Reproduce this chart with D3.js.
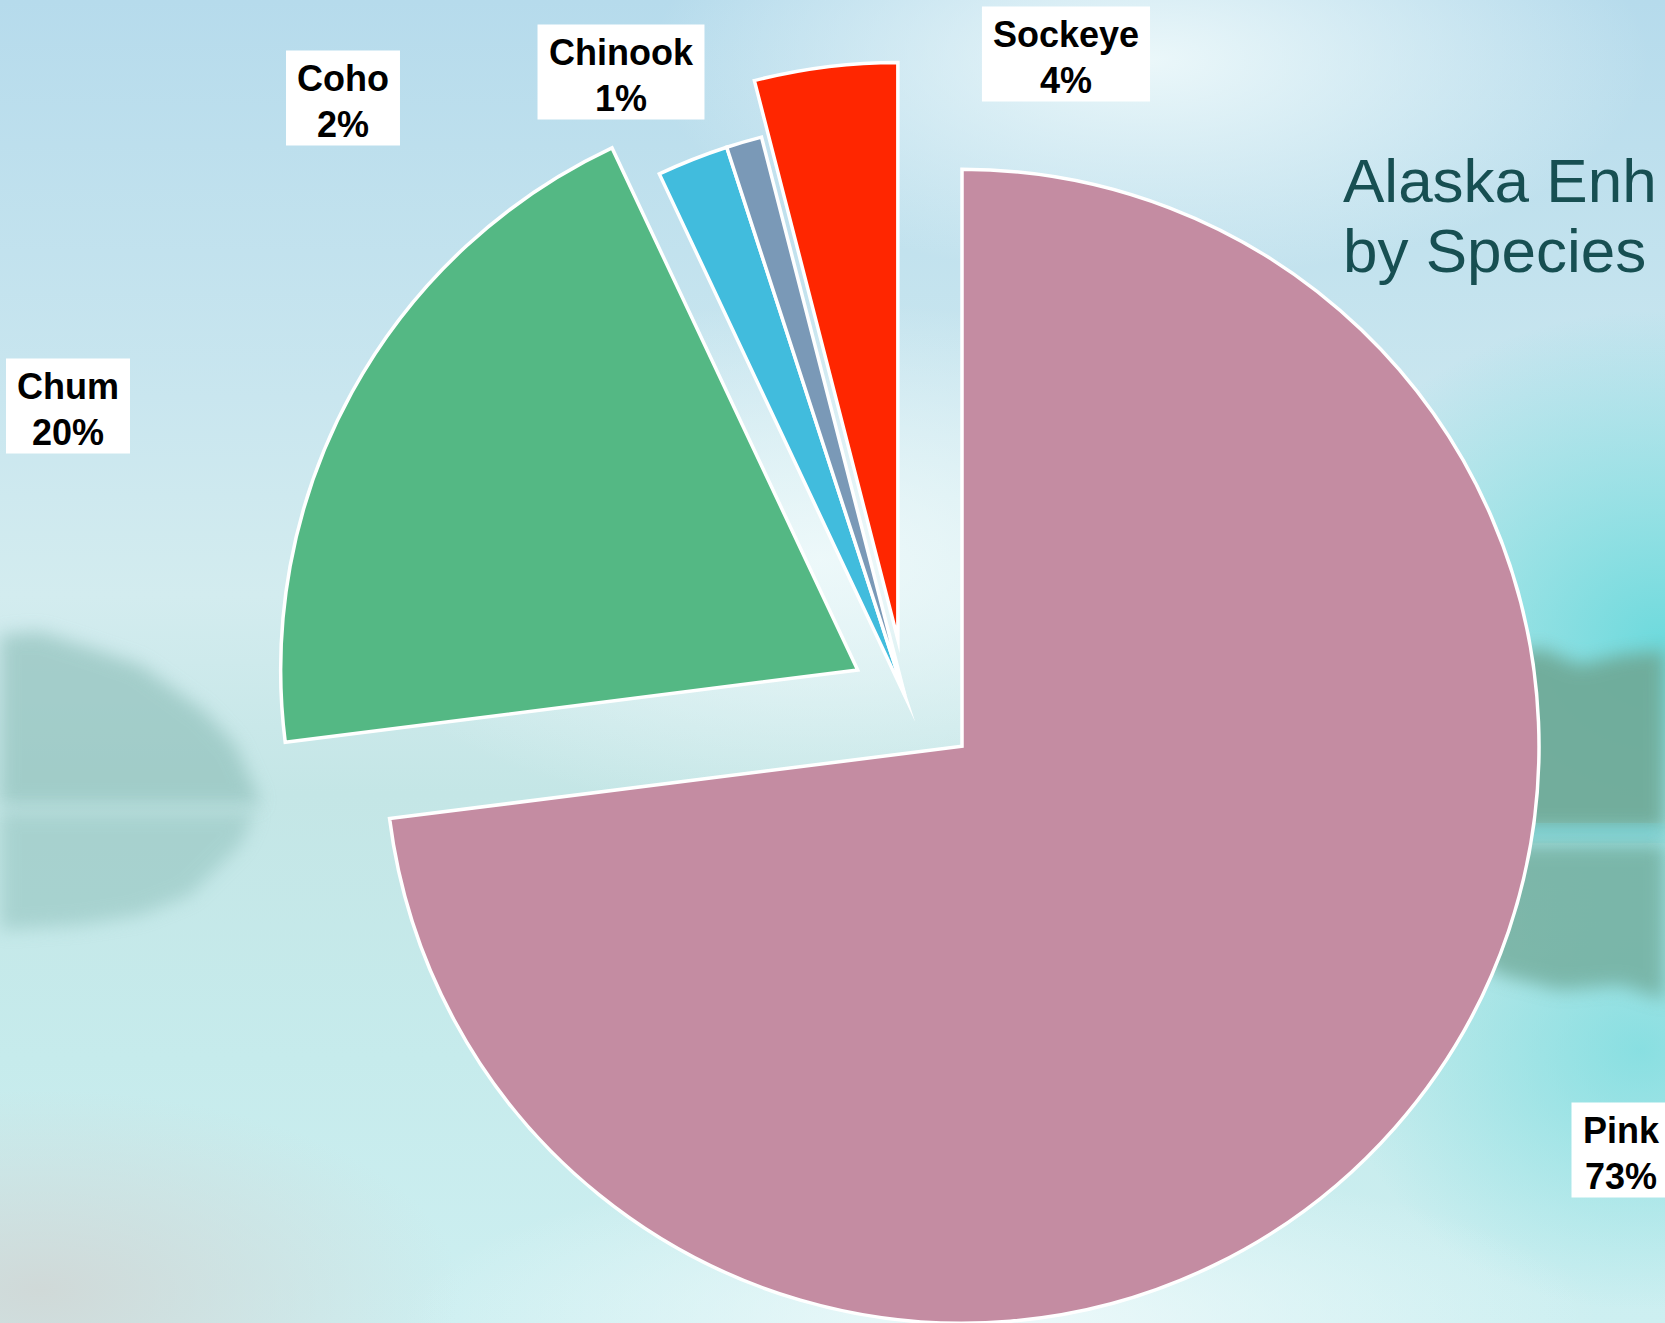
<!DOCTYPE html>
<html>
<head>
<meta charset="utf-8">
<script src="https://cdn.jsdelivr.net/npm/d3@7"></script>
<style>
  html, body { margin: 0; padding: 0; overflow: hidden; }
  svg { display: block; }
</style>
</head>
<body>
<div id="chart"></div>
<script>
// salmon share by species, clockwise from 12 o'clock
const species = ["Pink", "Chum", "Coho", "Chinook", "Sockeye"];
const shares = [73, 20, 2, 1, 4];
const titleLines = ["Alaska Enh", "by Species"];

const colors = ["#c48ca2", "#54b884", "#41bcdd", "#7a99b7", "#ff2600"];
const explode = [76, 54, 0, 0, 57];   // px pulled out along slice middle
// label box centres, relative to the pie centre
const labelAt = {
  Pink: [716, 454],
  Chum: [-837, -290],
  Coho: [-562, -598],
  Chinook: [-284, -624],
  Sockeye: [161, -642]
};

const w = 1665, h = 1323;
const cx = 905, cy = 696, radius = 577;

const svg = d3.select("#chart").append("svg")
  .attr("width", w)
  .attr("height", h);

const defs = svg.append("defs");

// ---- misty lake backdrop ----
const sky = defs.append("linearGradient").attr("id", "sky")
  .attr("x1", 0).attr("y1", 0).attr("x2", 0).attr("y2", 1);
[[0, "#b6dbec"], [0.3, "#c9e6ef"], [0.45, "#d3ecef"], [0.6, "#c4e6e6"], [0.8, "#c6ebec"], [1, "#cdeff1"]]
  .forEach(s => sky.append("stop").attr("offset", s[0]).attr("stop-color", s[1]));

const glow = defs.append("radialGradient").attr("id", "glow");
glow.append("stop").attr("offset", 0).attr("stop-color", "#f0fafb").attr("stop-opacity", 0.9);
glow.append("stop").attr("offset", 1).attr("stop-color", "#f0fafb").attr("stop-opacity", 0);

const teal = defs.append("radialGradient").attr("id", "teal");
teal.append("stop").attr("offset", 0).attr("stop-color", "#6fdadd").attr("stop-opacity", 1);
teal.append("stop").attr("offset", 1).attr("stop-color", "#6fdadd").attr("stop-opacity", 0);

const grey = defs.append("radialGradient").attr("id", "grey");
grey.append("stop").attr("offset", 0).attr("stop-color", "#d0d9d8").attr("stop-opacity", 1);
grey.append("stop").attr("offset", 1).attr("stop-color", "#d0d9d8").attr("stop-opacity", 0);

defs.append("filter").attr("id", "soft")
  .attr("x", "-20%").attr("y", "-20%").attr("width", "140%").attr("height", "140%")
  .append("feGaussianBlur").attr("stdDeviation", 9);

const bg = svg.append("g");
bg.append("rect").attr("width", w).attr("height", h).attr("fill", "url(#sky)");
bg.append("ellipse").attr("cx", 1150).attr("cy", 60).attr("rx", 500).attr("ry", 220).attr("fill", "url(#glow)");
bg.append("ellipse").attr("cx", 820).attr("cy", 560).attr("rx", 520).attr("ry", 260).attr("fill", "url(#glow)");
bg.append("ellipse").attr("cx", 1660).attr("cy", 640).attr("rx", 380).attr("ry", 330).attr("fill", "url(#teal)");
bg.append("ellipse").attr("cx", 1640).attr("cy", 1050).attr("rx", 300).attr("ry", 260).attr("fill", "url(#teal)").attr("opacity", 0.7);
bg.append("ellipse").attr("cx", 40).attr("cy", 1290).attr("rx", 420).attr("ry", 200).attr("fill", "url(#grey)");
bg.append("ellipse").attr("cx", 1000).attr("cy", 1320).attr("rx", 600).attr("ry", 160).attr("fill", "url(#glow)");

// left shoreline trees and reflection
bg.append("path")
  .attr("d", "M0,635 L40,632 L90,648 L140,665 L175,690 L205,712 L235,745 L255,790 L260,805 L0,805 Z")
  .attr("fill", "#8ebfb9").attr("opacity", 0.65).attr("filter", "url(#soft)");
bg.append("path")
  .attr("d", "M0,812 L255,812 L240,845 L215,870 L190,895 L140,915 L80,925 L0,930 Z")
  .attr("fill", "#94c4bf").attr("opacity", 0.6).attr("filter", "url(#soft)");

// right shoreline trees and reflection
bg.append("path")
  .attr("d", "M1440,700 L1500,660 L1540,648 L1580,665 L1620,655 L1665,650 L1665,830 L1440,830 Z")
  .attr("fill", "#6ea895").attr("opacity", 0.9).attr("filter", "url(#soft)");
bg.append("rect").attr("x", 1440).attr("y", 826).attr("width", 225).attr("height", 14)
  .attr("fill", "#72d4da").attr("opacity", 0.8).attr("filter", "url(#soft)");
bg.append("path")
  .attr("d", "M1440,845 L1665,845 L1665,1000 L1620,985 L1560,990 L1500,975 L1450,940 Z")
  .attr("fill", "#6ea896").attr("opacity", 0.75).attr("filter", "url(#soft)");

// ---- pie ----
const pie = d3.pie().sort(null).startAngle(0).endAngle(2 * Math.PI);
const arcs = pie(shares);
const arc = d3.arc().innerRadius(0).outerRadius(radius);

const g = svg.append("g").attr("transform", `translate(${cx},${cy})`);

g.selectAll("path.slice")
  .data(arcs)
  .enter()
  .append("path")
  .attr("class", "slice")
  .attr("d", arc)
  .attr("transform", function(d, i) {
    const mid = (d.startAngle + d.endAngle) / 2;
    return `translate(${Math.sin(mid) * explode[i]},${-Math.cos(mid) * explode[i]})`;
  })
  .attr("fill", (d, i) => colors[i])
  .attr("stroke", "#ffffff")
  .attr("stroke-width", 3.5)
  .attr("stroke-linejoin", "miter")
  .attr("stroke-miterlimit", 30);

// ---- data labels ----
const total = d3.sum(shares);
const labels = g.selectAll("g.label")
  .data(arcs)
  .enter()
  .append("g")
  .attr("class", "label")
  .attr("transform", (d, i) => `translate(${labelAt[species[i]][0]},${labelAt[species[i]][1]})`);

labels.each(function(d, i) {
  const lg = d3.select(this);
  const box = lg.append("rect").attr("fill", "#ffffff");
  const txt = lg.append("text")
    .attr("text-anchor", "middle")
    .attr("font-family", "'Liberation Sans', Arial, sans-serif")
    .attr("font-weight", "bold")
    .attr("font-size", "36px")
    .attr("fill", "#000000");
  txt.append("tspan").attr("x", 0).attr("y", -7.5).text(species[i]);
  txt.append("tspan").attr("x", 0).attr("y", 38.5).text(Math.round(shares[i] * 100 / total) + "%");
  const bw = txt.node().getBBox().width + 22;
  box.attr("x", -bw / 2).attr("y", -47.5).attr("width", bw).attr("height", 95);
});

// ---- title ----
svg.append("text")
  .attr("x", 1343)
  .attr("y", 202)
  .attr("font-family", "'Liberation Sans', Arial, sans-serif")
  .attr("font-size", "62px")
  .attr("fill", "#174f52")
  .selectAll("tspan")
  .data(titleLines)
  .enter()
  .append("tspan")
  .attr("x", 1343)
  .attr("dy", (d, i) => i === 0 ? 0 : 70)
  .text(d => d);
</script>
</body>
</html>
